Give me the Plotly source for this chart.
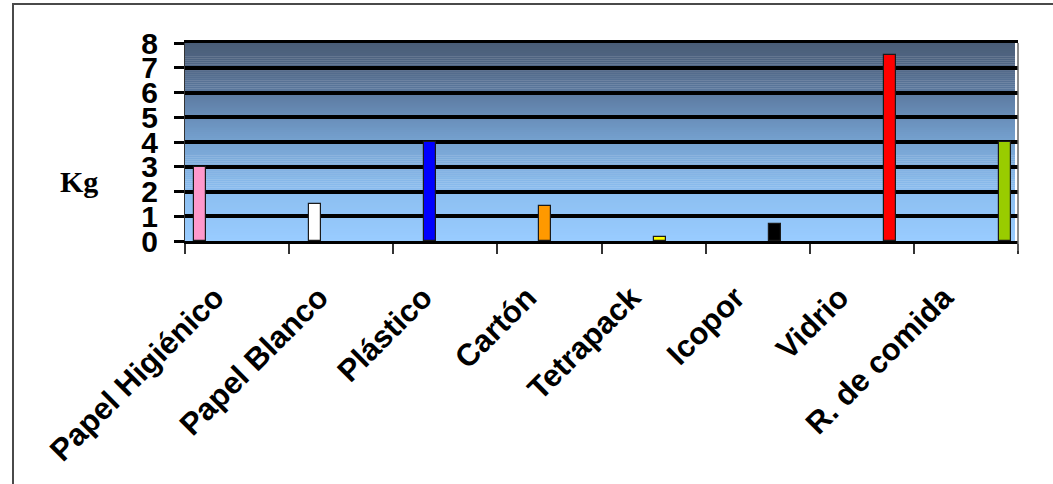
import plotly.graph_objects as go

categories = ["Papel Higiénico", "Papel Blanco", "Plástico", "Cartón",
              "Tetrapack", "Icopor", "Vidrio", "R. de comida"]
values_kg = [3.0, 1.5, 4.0, 1.4, 0.15, 0.7, 7.5, 4.0]
bar_colors = ["#FF99CC", "#FFFFFF", "#0000FF", "#FF9900",
              "#FFFF00", "#000000", "#FF0000", "#99CC00"]
y_ticks = [0, 1, 2, 3, 4, 5, 6, 7, 8]

# plot-area geometry (pixels)
W, H = 1053, 484
L, R, T, B = 185, 1018, 43, 241
pw, ph = R - L, B - T

fig = go.Figure()

idx = list(range(len(categories)))
# bars on the main x axis (index units)
fig.add_trace(go.Bar(
    x=idx, y=values_kg, width=0.105,
    marker=dict(color=bar_colors, line=dict(color="#1a1a1a", width=1.2)),
    xaxis="x", yaxis="y", showlegend=False, hoverinfo="x+y",
))
# invisible helper trace so the category-label axis gets drawn
fig.add_trace(go.Scatter(
    x=idx, y=[0] * len(idx), mode="markers", marker=dict(opacity=0),
    xaxis="x2", yaxis="y", showlegend=False, hoverinfo="skip",
))

# gradient background bands (below gridlines)
stops = [(0.0, (153, 204, 255)), (0.25, (140, 190, 240)), (0.5, (118, 162, 208)),
         (0.625, (105, 142, 185)), (0.75, (92, 122, 160)), (0.875, (82, 104, 135)),
         (1.0, (74, 94, 120))]

def interp(t):
    for (t0, c0), (t1, c1) in zip(stops[:-1], stops[1:]):
        if t0 <= t <= t1:
            f = (t - t0) / (t1 - t0)
            return "rgb(%d,%d,%d)" % tuple(round(a + (b - a) * f) for a, b in zip(c0, c1))
    return "rgb(%d,%d,%d)" % stops[-1][1]

shapes = []
N = 100
for i in range(N):
    shapes.append(dict(type="rect", xref="paper", yref="paper", layer="below",
                       x0=0, x1=(1015 - L) / pw, y0=i / N, y1=(i + 1) / N + 0.002,
                       fillcolor=interp((i + 0.5) / N), line=dict(width=0)))
# right edge gray line
shapes.append(dict(type="line", xref="paper", yref="paper", layer="above",
                   x0=1.0, x1=1.0, y0=-10 / ph, y1=1.0,
                   line=dict(color="#666666", width=1.5)))
# outer border (partially cropped in reference)
shapes.append(dict(type="rect", xref="paper", yref="paper", layer="above",
                   x0=(13 - L) / pw, x1=(1070 - L) / pw,
                   y0=(B - 500) / ph, y1=(B - 4) / ph,
                   line=dict(color="#4a4a4a", width=2), fillcolor="rgba(0,0,0,0)"))

# bar axis range: bar 0 centred at px 200, bar 7 at px 1005
px_per = (1005 - 200) / 7
x0r = -(200 - L) / px_per
x1r = 7 + (R - 1005) / px_per

fig.update_layout(
    width=W, height=H,
    margin=dict(l=L, r=W - R, t=T, b=H - B, pad=0, autoexpand=False),
    paper_bgcolor="white", plot_bgcolor="rgba(0,0,0,0)",
    shapes=shapes,
    bargap=0,
    xaxis=dict(range=[x0r, x1r], visible=False, fixedrange=True, automargin=False),
    xaxis2=dict(
        overlaying="x", anchor="y", side="bottom", automargin=False,
        range=[-0.5, 7.5], tickmode="array", tickvals=idx, ticktext=categories,
        tickangle=-45, ticks="", showgrid=False, zeroline=False,
        showline=True, linecolor="black", linewidth=3, mirror=True,
        tickfont=dict(family="Liberation Sans, Arial", size=31, color="black", weight="bold"),
        ticklabelstandoff=23, ticklabelshift=-22,
        minor=dict(tick0=-0.5, dtick=1, ticks="outside", ticklen=10,
                   tickwidth=2, tickcolor="#333333", showgrid=False),
    ),
    yaxis=dict(
        range=[0, 8], tickmode="array", tickvals=y_ticks, automargin=False,
        ticks="outside", ticklen=10, tickwidth=3, tickcolor="black",
        showgrid=True, gridcolor="black", gridwidth=3.5,
        zeroline=False, showline=True, linecolor="#333333", linewidth=1,
        tickfont=dict(family="Liberation Sans, Arial", size=30, color="black", weight="bold"),
        ticklabelstandoff=10,
    ),
    annotations=[dict(
        text="<b>Kg</b>", xref="paper", yref="paper",
        x=(79 - L) / pw, y=(B - 181) / ph, xanchor="center", yanchor="middle",
        showarrow=False, font=dict(family="Liberation Serif, Times New Roman", size=30, color="black"),
    )],
)

fig.write_html("out.html")
